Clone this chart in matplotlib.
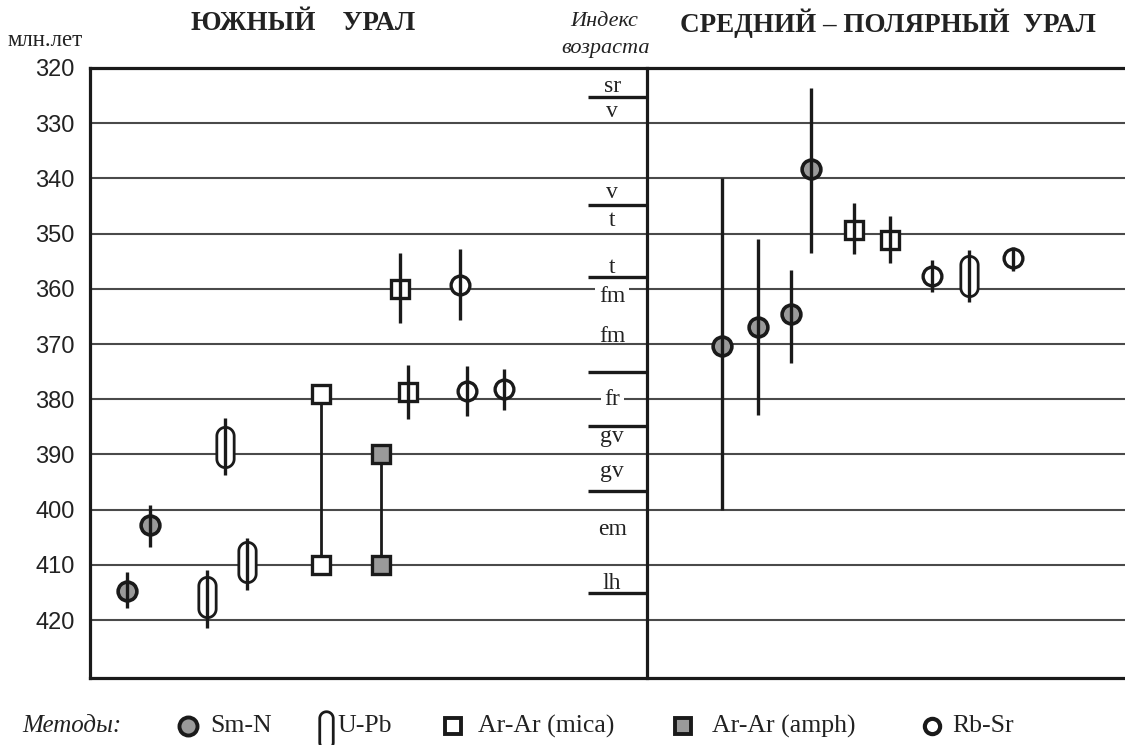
import numpy as np
import matplotlib
matplotlib.use("Agg")
import matplotlib.pyplot as plt
from matplotlib.path import Path

# ---------------- data ----------------
# Southern Urals
s_smnd_age = [414.8, 402.8]
s_smnd_lo = [411.3, 399.2]
s_smnd_hi = [417.8, 406.8]

s_upb_age = [415.8, 388.7, 409.5]
s_upb_lo = [411.0, 383.4, 405.1]
s_upb_hi = [421.4, 393.7, 414.6]

s_mica_pair = [379.0, 410.0]          # connected Ar-Ar (mica) ages
s_amph_pair = [390.0, 410.0]          # connected Ar-Ar (amph) ages

s_mica_age = [360.0, 378.7]
s_mica_lo = [353.5, 373.8]
s_mica_hi = [366.2, 383.6]

s_rbsr_age = [359.3, 378.5, 378.2]
s_rbsr_lo = [352.8, 374.0, 374.5]
s_rbsr_hi = [365.6, 383.0, 382.0]

# Middle - Polar Urals
m_smnd_age = [370.4, 367.0, 364.6, 338.3]
m_smnd_lo = [340.0, 351.0, 356.6, 323.6]
m_smnd_hi = [400.0, 382.9, 373.4, 353.5]

m_mica_age = [349.3, 351.2]
m_mica_lo = [344.5, 346.8]
m_mica_hi = [353.7, 355.3]

m_rbsr_age = [357.7, 354.4]
m_rbsr_lo = [354.8, 352.4]
m_rbsr_hi = [360.6, 356.8]

m_upb_age = [357.7]
m_upb_lo = [353.0]
m_upb_hi = [362.4]

# Age index (stratigraphic) scale
stage_bounds = [325.2, 344.8, 357.9, 375.1, 384.9, 396.6, 415.1]
stage_labels = ["sr", "v", "v", "t", "t", "fm", "fm", "fr", "gv", "gv", "em", "lh"]
stage_label_age = [324.3, 328.8, 343.6, 348.7, 357.2, 362.3, 369.6, 381.0,
                   387.7, 394.0, 404.6, 414.3]

yticks = [320, 330, 340, 350, 360, 370, 380, 390, 400, 410, 420]

legend_labels = ["Sm-N", "U-Pb", "Ar-Ar (mica)", "Ar-Ar (amph)", "Rb-Sr"]

# ---------------- layout (column positions, in figure-pixel-like x units) ----
W, H = 1125, 745
pos_s_smnd = [127, 150]
pos_s_upb = [207, 225, 247]
pos_s_mica_pair = 321
pos_s_amph_pair = 381
pos_s_mica = [400, 408]
pos_s_rbsr = [460, 467, 504]
pos_m_smnd = [722, 758, 791, 811]
pos_m_mica = [854, 890]
pos_m_rbsr = [932, 1013]
pos_m_upb = [969]
divider_x = 647

GRAY = "#9a9a9a"
DARK = "#1a1a1a"
GRID = "#4a4a4a"


def capsule(ratio=0.43, n=30):
    r = ratio / 2.0
    c = 0.5 - r
    t1 = np.linspace(0, np.pi, n)
    t2 = np.linspace(np.pi, 2 * np.pi, n)
    top = np.column_stack([r * np.cos(t1), c + r * np.sin(t1)])
    bot = np.column_stack([r * np.cos(t2), -c + r * np.sin(t2)])
    verts = np.vstack([top, bot, top[:1]])
    codes = [Path.MOVETO] + [Path.LINETO] * (len(verts) - 2) + [Path.CLOSEPOLY]
    return Path(verts, codes)


CAPS = capsule(0.43)
CAPS_LEG = capsule(0.36)

fig = plt.figure(figsize=(W / 100, H / 100), dpi=100)
ax = fig.add_axes([90 / W, 1 - 678 / H, 1 - 90 / W + 0.01, (678 - 68) / H])
ax.set_xlim(90, W + 11)
ax.set_ylim(430.5, 320)

ax.spines["right"].set_visible(False)
for s in ["left", "top", "bottom"]:
    ax.spines[s].set_linewidth(2.3)
    ax.spines[s].set_color(DARK)

ax.set_yticks(yticks)
ax.set_yticklabels([str(v) for v in yticks], family="Liberation Sans",
                   fontsize=17, color="#222222")
ax.tick_params(axis="y", length=0, pad=11)
ax.set_xticks([])

# grid lines
for v in yticks[1:]:
    ax.axhline(v, color=GRID, lw=1.5, zorder=1)

# divider and stage ticks
ax.plot([divider_x, divider_x], [320, 430.5], color=DARK, lw=2.3, zorder=3,
        clip_on=False)
ax.hlines(stage_bounds, 588, divider_x, color=DARK, lw=2.4, zorder=3)

for lab, a in zip(stage_labels, stage_label_age):
    d = a - round(a / 10) * 10
    kw = {}
    if 0.5 < d < 3.0:
        kw["bbox"] = dict(facecolor="white", edgecolor="none", pad=2.5)
    ax.text(612, a, lab, ha="center", va="baseline", family="Liberation Serif",
            fontsize=17, color="#222222", zorder=2, **kw)

# connected Ar-Ar pairs
ax.plot([pos_s_mica_pair] * 2, s_mica_pair, color=DARK, lw=2.0, zorder=3)
ax.plot([pos_s_amph_pair] * 2, s_amph_pair, color=DARK, lw=2.0, zorder=3)

# error bars
EB = dict(color=DARK, lw=2.4, zorder=5)
ax.vlines(pos_s_smnd, s_smnd_lo, s_smnd_hi, **EB)
ax.vlines(pos_s_upb, s_upb_lo, s_upb_hi, **EB)
ax.vlines(pos_s_mica, s_mica_lo, s_mica_hi, **EB)
ax.vlines(pos_s_rbsr, s_rbsr_lo, s_rbsr_hi, **EB)
ax.vlines(pos_m_smnd, m_smnd_lo, m_smnd_hi, **EB)
ax.vlines(pos_m_mica, m_mica_lo, m_mica_hi, **EB)
ax.vlines(pos_m_rbsr, m_rbsr_lo, m_rbsr_hi, **EB)
ax.vlines(pos_m_upb, m_upb_lo, m_upb_hi, **EB)

MK = dict(ls="none", mec=DARK, zorder=4)
# Sm-Nd
ax.plot(pos_s_smnd, s_smnd_age, marker="o", ms=13.5, mew=2.6, mfc=GRAY, **MK)
ax.plot(pos_m_smnd, m_smnd_age, marker="o", ms=13.5, mew=2.6, mfc=GRAY, **MK)
# U-Pb capsules
ax.plot(pos_s_upb, s_upb_age, marker=CAPS, ms=29, mew=2.0, mfc="white", **MK)
ax.plot(pos_m_upb, m_upb_age, marker=CAPS, ms=29, mew=2.0, mfc="white", **MK)
# Ar-Ar mica
ax.plot([pos_s_mica_pair] * 2, s_mica_pair, marker="s", ms=13, mew=2.4,
        mfc="white", **MK)
ax.plot(pos_s_mica, s_mica_age, marker="s", ms=13, mew=2.4, mfc="white", **MK)
ax.plot(pos_m_mica, m_mica_age, marker="s", ms=13, mew=2.4, mfc="white", **MK)
# Ar-Ar amph
ax.plot([pos_s_amph_pair] * 2, s_amph_pair, marker="s", ms=13, mew=2.4,
        mfc=GRAY, **MK)
# Rb-Sr
ax.plot(pos_s_rbsr, s_rbsr_age, marker="o", ms=13.5, mew=2.4, mfc="white", **MK)
ax.plot(pos_m_rbsr, m_rbsr_age, marker="o", ms=13.5, mew=2.4, mfc="white", **MK)

# ---------------- titles ----------------
def ftext(x, y, s, **kw):
    fig.text(x / W, 1 - y / H, s, **kw)


ftext(303, 23, "ЮЖНЫЙ    УРАЛ", ha="center", va="center",
      family="Liberation Serif", weight="bold", fontsize=19.5, color="#222222")
ftext(888, 23, "СРЕДНИЙ – ПОЛЯРНЫЙ  УРАЛ", ha="center", va="center",
      family="Liberation Serif", weight="bold", fontsize=19.5, color="#222222")
ftext(8, 40, "млн.лет", ha="left", va="center", family="Liberation Serif",
      fontsize=16.5, color="#222222")
ftext(604, 22, "Индекс", ha="center", va="center", family="Liberation Serif",
      style="italic", fontsize=16, color="#222222")
ftext(606, 48, "возраста", ha="center", va="center", family="Liberation Serif",
      style="italic", fontsize=16, color="#222222")

# ---------------- legend ----------------
lax = fig.add_axes([0, 0, 1, 1 - 680 / H])
lax.set_xlim(0, W)
lax.set_ylim(H, 680)
lax.axis("off")
ly = 726
lax.text(22, ly, "Методы:", ha="left", va="center", family="Liberation Serif",
         style="italic", fontsize=18, color="#222222")
leg_marker_x = [188, 326, 453, 683, 932]
leg_text_x = [210, 337, 478, 712, 952]
lax.plot([leg_marker_x[0]], [ly], marker="o", ms=13, mew=2.8, mfc=GRAY,
         mec=DARK, ls="none")
lax.plot([leg_marker_x[1]], [ly + 4], marker=CAPS_LEG, ms=27, mew=2.0,
         mfc="white", mec=DARK, ls="none", clip_on=False)
lax.plot([leg_marker_x[2]], [ly], marker="s", ms=11.5, mew=2.8, mfc="white",
         mec=DARK, ls="none")
lax.plot([leg_marker_x[3]], [ly], marker="s", ms=11.5, mew=2.8, mfc=GRAY,
         mec=DARK, ls="none")
lax.plot([leg_marker_x[4]], [ly], marker="o", ms=11, mew=3.0, mfc="white",
         mec=DARK, ls="none")
for tx, lab in zip(leg_text_x, legend_labels):
    lax.text(tx, ly, lab, ha="left", va="center", family="Liberation Serif",
             fontsize=18.5, color="#222222")

fig.savefig("out.png", dpi=100, facecolor="white")
